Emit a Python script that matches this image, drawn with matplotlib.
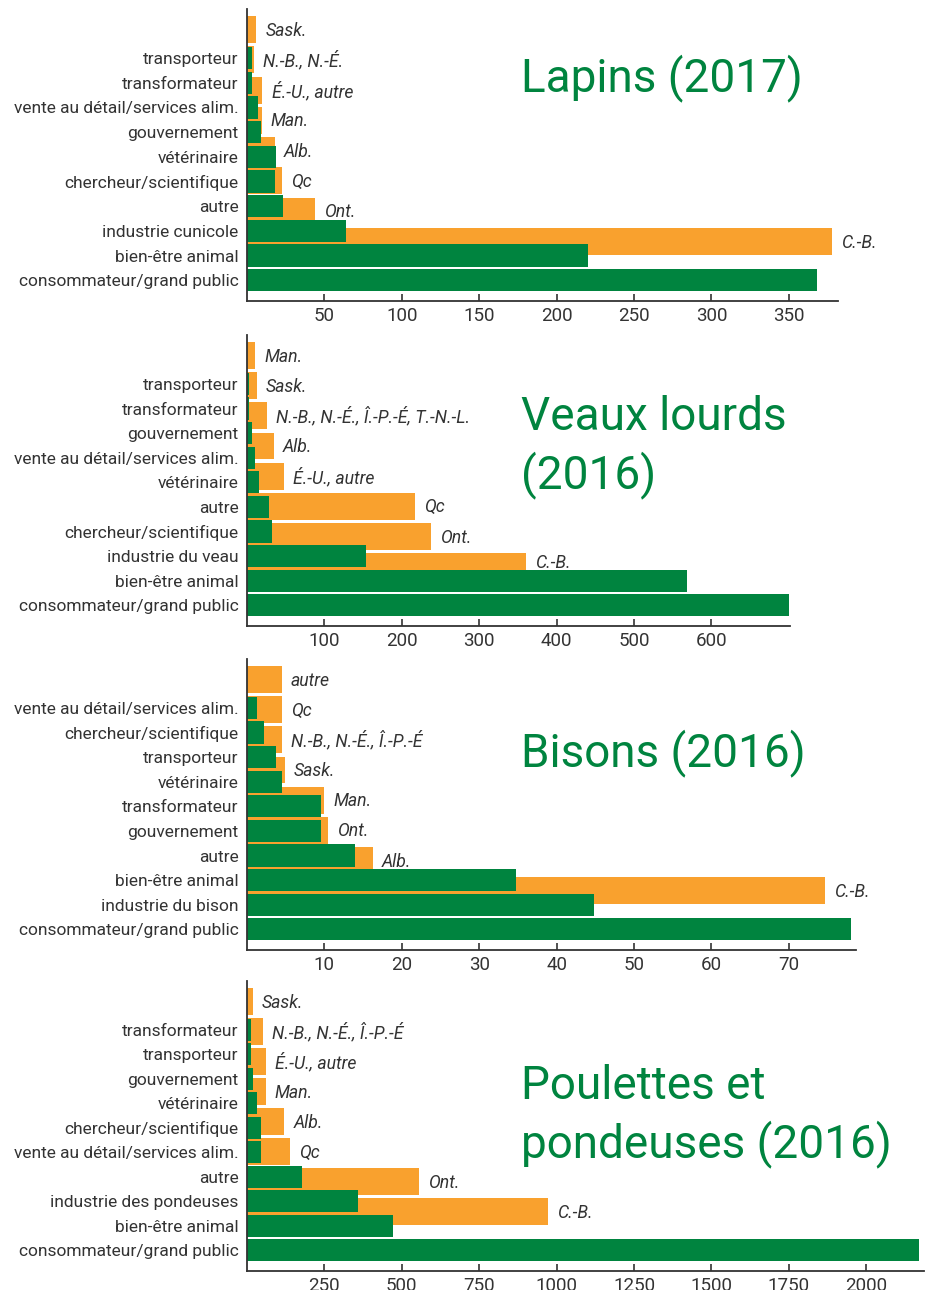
import matplotlib.pyplot as plt

plt.rcParams['font.family'] = ['Roboto', 'DejaVu Sans']

GREEN = '#00843f'
ORANGE = '#f9a12e'
INK = '#333333'

# Lapins (2017)
lapins_cats = ['transporteur', 'transformateur', 'vente au détail/services alim.', 'gouvernement',
               'vétérinaire', 'chercheur/scientifique', 'autre', 'industrie cunicole',
               'bien-être animal', 'consommateur/grand public']
lapins_vals = [3, 3, 7, 9, 18.5, 18, 23, 64, 220, 368]
lapins_prov = ['Sask.', 'N.-B., N.-É.', 'É.-U., autre', 'Man.', 'Alb.', 'Qc', 'Ont.', 'C.-B.']
lapins_prov_vals = [6, 4.5, 10, 9.5, 18, 22.5, 44, 378]
lapins_ticks = [50, 100, 150, 200, 250, 300, 350]

# Veaux lourds (2016)
veaux_cats = ['transporteur', 'transformateur', 'gouvernement', 'vente au détail/services alim.',
              'vétérinaire', 'autre', 'chercheur/scientifique', 'industrie du veau',
              'bien-être animal', 'consommateur/grand public']
veaux_vals = [3, 3, 7, 10.5, 15.5, 28.5, 32.5, 154, 569, 700]
veaux_prov = ['Man.', 'Sask.', 'N.-B., N.-É., Î.-P.-É, T.-N.-L.', 'Alb.', 'É.-U., autre',
              'Qc', 'Ont.', 'C.-B.']
veaux_prov_vals = [10.5, 13, 26, 35, 48, 217, 238, 360]
veaux_ticks = [100, 200, 300, 400, 500, 600]

# Bisons (2016)
bisons_cats = ['vente au détail/services alim.', 'chercheur/scientifique', 'transporteur',
               'vétérinaire', 'transformateur', 'gouvernement', 'autre', 'bien-être animal',
               'industrie du bison', 'consommateur/grand public']
bisons_vals = [1.3, 2.2, 3.8, 4.5, 9.6, 9.6, 13.9, 34.7, 44.8, 78]
bisons_prov = ['autre', 'Qc', 'N.-B., N.-É., Î.-P.-É', 'Sask.', 'Man.', 'Ont.', 'Alb.', 'C.-B.']
bisons_prov_vals = [4.5, 4.5, 4.5, 4.9, 10, 10.5, 16.3, 74.7]
bisons_ticks = [10, 20, 30, 40, 50, 60, 70]

# Poulettes et pondeuses (2016)
poules_cats = ['transformateur', 'transporteur', 'gouvernement', 'vétérinaire',
               'chercheur/scientifique', 'vente au détail/services alim.', 'autre',
               'industrie des pondeuses', 'bien-être animal', 'consommateur/grand public']
poules_vals = [12, 12, 18, 31, 44, 44, 178, 358, 470, 2169]
poules_prov = ['Sask.', 'N.-B., N.-É., Î.-P.-É', 'É.-U., autre', 'Man.', 'Alb.', 'Qc', 'Ont.', 'C.-B.']
poules_prov_vals = [18, 53, 60, 60, 121, 140, 557, 973]
poules_ticks = [250, 500, 750, 1000, 1250, 1500, 1750, 2000]

panels = [
    dict(cats=lapins_cats, vals=lapins_vals, prov=lapins_prov, pvals=lapins_prov_vals,
         ticks=lapins_ticks, xmax=382, title=['Lapins (2017)'], top=9, bottom=301, ty=91),
    dict(cats=veaux_cats, vals=veaux_vals, prov=veaux_prov, pvals=veaux_prov_vals,
         ticks=veaux_ticks, xmax=702, title=['Veaux lourds', '(2016)'], top=335, bottom=626, ty=430),
    dict(cats=bisons_cats, vals=bisons_vals, prov=bisons_prov, pvals=bisons_prov_vals,
         ticks=bisons_ticks, xmax=78.7, title=['Bisons (2016)'], top=659, bottom=950, ty=766),
    dict(cats=poules_cats, vals=poules_vals, prov=poules_prov, pvals=poules_prov_vals,
         ticks=poules_ticks, xmax=2188, title=['Poulettes et', 'pondeuses (2016)'], top=981, bottom=1271, ty=1099),
]

W, H = 931, 1290
fig = plt.figure(figsize=(W / 100, H / 100), dpi=100)

for p in panels:
    step = p['ticks'][1] - p['ticks'][0]
    width = p['xmax'] / step * 77.4
    left = 247
    ax = fig.add_axes([left / W, 1 - p['bottom'] / H, width / W, (p['bottom'] - p['top']) / H])
    ax_o = ax.twinx()
    ax.set_zorder(ax_o.get_zorder() + 1)
    ax.patch.set_visible(False)

    # orange bars (provinces) underneath
    ax_o.barh(range(len(p['prov'])), p['pvals'], height=0.89, color=ORANGE)
    ax_o.set_ylim(8.97, -0.68)
    ax_o.set_yticks([])
    for s in ax_o.spines.values():
        s.set_visible(False)

    # green bars (categories) on top
    ax.barh(range(len(p['cats'])), p['vals'], height=0.9, color=GREEN)
    ax.set_ylim(9.84, -1.99)
    ax.set_xlim(0, p['xmax'])
    ax.set_yticks(range(len(p['cats'])))
    ax.set_yticklabels(p['cats'], fontsize=12.5, color=INK)
    ax.tick_params(axis='y', length=0, pad=6)
    ax.set_xticks(p['ticks'])
    ax.set_xticklabels([str(t) for t in p['ticks']], fontsize=13.5, color=INK)
    ax.tick_params(axis='x', direction='in', length=5, width=1.2, color=INK, pad=4)
    for s in ['top', 'right']:
        ax.spines[s].set_visible(False)
    for s in ['left', 'bottom']:
        ax.spines[s].set_color(INK)
        ax.spines[s].set_linewidth(1.3)

    # province labels; lift a label a little if a green bar would run under its text
    for i, (lab, v) in enumerate(zip(p['prov'], p['pvals'])):
        disp = ax_o.transData.transform((v, i))
        yg = ax.transData.inverted().transform(disp)[1]
        dy = -0.8
        for j, g in enumerate(p['vals']):
            gx = ax.transData.transform((g, j))[0]
            if j > yg and j - 0.45 < yg + 0.3 and gx > disp[0] + 9:
                dy = 2.5
        ax.annotate(lab, (v, i), xycoords=ax_o.transData, xytext=(6.5, dy),
                    textcoords='offset points', va='center', ha='left', fontsize=12.7,
                    style='italic', color=INK, annotation_clip=False, zorder=5)

    for k, line in enumerate(p['title']):
        fig.text(521 / W, 1 - (p['ty'] + 58 * k) / H, line, fontsize=33, color=GREEN,
                 ha='left', va='baseline')

fig.savefig('out.png', dpi=100)
